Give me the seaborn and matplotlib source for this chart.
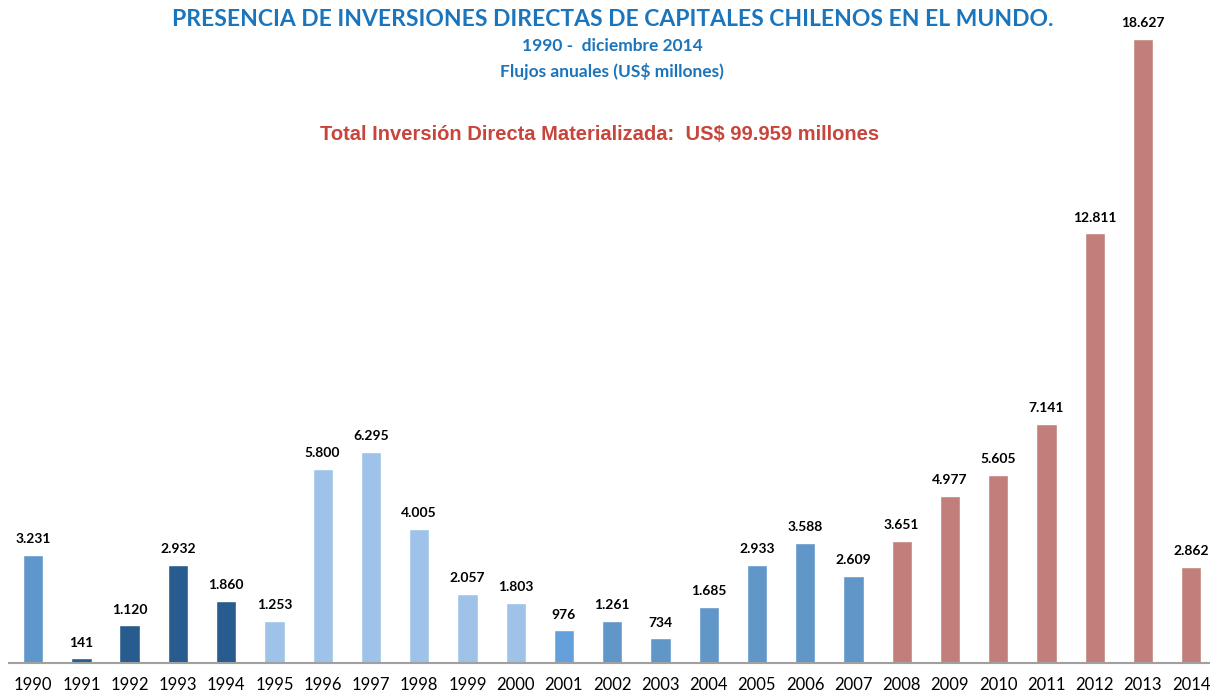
import matplotlib
matplotlib.use("Agg")
import matplotlib.pyplot as plt
import seaborn as sns
import pandas as pd

years = [str(y) for y in range(1990, 2015)]
values = [3231, 141, 1120, 2932, 1860, 1253, 5800, 6295, 4005, 2057, 1803,
          976, 1261, 734, 1685, 2933, 3588, 2609, 3651, 4977, 5605, 7141,
          12811, 18627, 2862]
bar_colors = (["#6097CB"] + ["#285C8E"] * 4 + ["#9FC2E8"] * 6 + ["#64A1DC"]
              + ["#6096C8"] * 6 + ["#C17E7A"] * 7)

sns.set_theme(style="white")
plt.rcParams['font.family'] = ['Lato', 'DejaVu Sans']

fig = plt.figure(figsize=(12.1, 6.92), dpi=100)
ax = fig.add_axes([9 / 1210, 29 / 692, 1 - 9 / 1210, (663 - 26) / 692])

df = pd.DataFrame({"year": years, "value": values})
sns.barplot(data=df, x="year", y="value", hue="year", palette=bar_colors,
            legend=False, width=0.42, ax=ax, saturation=1)

ax.set_xlim(-0.5, 24.39)
ax.set_ylim(0, 19000)
for s in ["top", "right", "left"]:
    ax.spines[s].set_visible(False)
ax.spines["bottom"].set_color("#A0A0A0")
ax.spines["bottom"].set_linewidth(1.5)
ax.set_yticks([])
ax.set_xlabel("")
ax.set_ylabel("")
ax.tick_params(axis="x", length=0, pad=10, labelsize=12, labelcolor="black")

for i, v in enumerate(values):
    lbl = f"{v:,}".replace(",", ".")
    ax.annotate(lbl, (i, v), xytext=(0, 7), textcoords="offset points",
                ha="center", va="bottom", fontsize=10, fontweight="bold",
                color="black")

fig.text(613 / 1210, 1 - 20 / 692,
         "PRESENCIA DE INVERSIONES DIRECTAS DE CAPITALES CHILENOS EN EL MUNDO.",
         ha="center", va="center", fontsize=16.5, fontweight="bold", color="#1B75BC")
fig.text(612 / 1210, 1 - 46 / 692, "1990 -  diciembre 2014",
         ha="center", va="center", fontsize=12.5, fontweight="bold", color="#1B75BC")
fig.text(612 / 1210, 1 - 71 / 692, "Flujos anuales (US$ millones)",
         ha="center", va="center", fontsize=12.5, fontweight="bold", color="#1B75BC")
fig.text(600 / 1210, 1 - 134 / 692,
         "Total Inversión Directa Materializada:  US$ 99.959 millones",
         ha="center", va="center", fontsize=14.5, fontweight="bold", color="#C8453B",
         family=["Liberation Sans", "DejaVu Sans"])

fig.savefig("out.png", dpi=100)
